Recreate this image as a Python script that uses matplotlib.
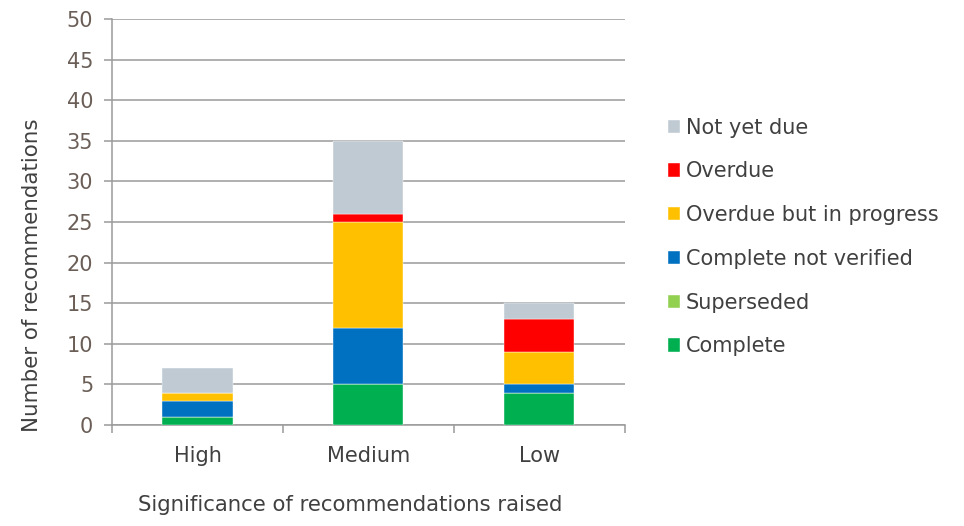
import numpy as np
import matplotlib.pyplot as plt

# Recommendation counts by significance
categories = ["High", "Medium", "Low"]
complete = [1, 5, 4]
superseded = [0, 0, 0]
complete_not_verified = [2, 7, 1]
overdue_in_progress = [1, 13, 4]
overdue = [0, 1, 4]
not_yet_due = [3, 9, 2]

series = [
    ("Complete", complete, "#00b050"),
    ("Superseded", superseded, "#92d050"),
    ("Complete not verified", complete_not_verified, "#0070c0"),
    ("Overdue but in progress", overdue_in_progress, "#ffc000"),
    ("Overdue", overdue, "#ff0000"),
    ("Not yet due", not_yet_due, "#c0cad3"),
]

plt.rcParams['font.family'] = ['DejaVu Sans']
tick_col = "#6b5e57"
text_col = "#404040"
grid_col = "#9a9a9a"

fig = plt.figure(figsize=(9.64, 5.26), dpi=100)
ax = fig.add_axes([0.1162, 0.192, 0.532, 0.772])

x = np.arange(len(categories))
bottom = np.zeros(len(categories))
handles = []
for name, vals, col in series:
    b = ax.bar(x, vals, width=0.41, bottom=bottom, color=col,
               edgecolor="white", linewidth=0.3, label=name, zorder=3)
    handles.append(b)
    bottom += np.array(vals)

ax.set_xlim(-0.5, 2.5)
ax.set_ylim(0, 50)
ax.set_yticks(range(0, 51, 5))
ax.yaxis.grid(True, color=grid_col, linewidth=1.1, zorder=0)
ax.set_axisbelow(True)

for s in ["top", "right"]:
    ax.spines[s].set_visible(False)
for s in ["left", "bottom"]:
    ax.spines[s].set_color(grid_col)
    ax.spines[s].set_linewidth(1.1)

ax.tick_params(axis="y", colors=grid_col, labelcolor=tick_col, labelsize=15,
               length=5.5, width=1.1, direction="out", pad=8)
ax.set_xticks(x)
ax.set_xticklabels(categories)
ax.tick_params(axis="x", length=0, labelsize=15, labelcolor=text_col, pad=15)
# boundary ticks between categories
ax.set_xticks(np.arange(-0.5, 3.0, 1.0), minor=True)
ax.tick_params(axis="x", which="minor", length=6, width=1.1, color=grid_col)

fig.text(32 / 964, 0.477, "Number of recommendations", fontsize=15.4,
         color=text_col, rotation=90, ha="center", va="center")
fig.text(0.363, 0.04, "Significance of recommendations raised", fontsize=15.3,
         color=text_col, ha="center", va="center")

leg = ax.legend(handles[::-1], [s[0] for s in series][::-1], loc="center left",
                bbox_to_anchor=(1.084, 0.463), frameon=False, fontsize=15,
                handlelength=0.6, handleheight=0.6, handletextpad=0.25,
                labelspacing=1.14, borderaxespad=0, borderpad=0)
for t in leg.get_texts():
    t.set_color(text_col)

fig.savefig("out.png", dpi=100)
